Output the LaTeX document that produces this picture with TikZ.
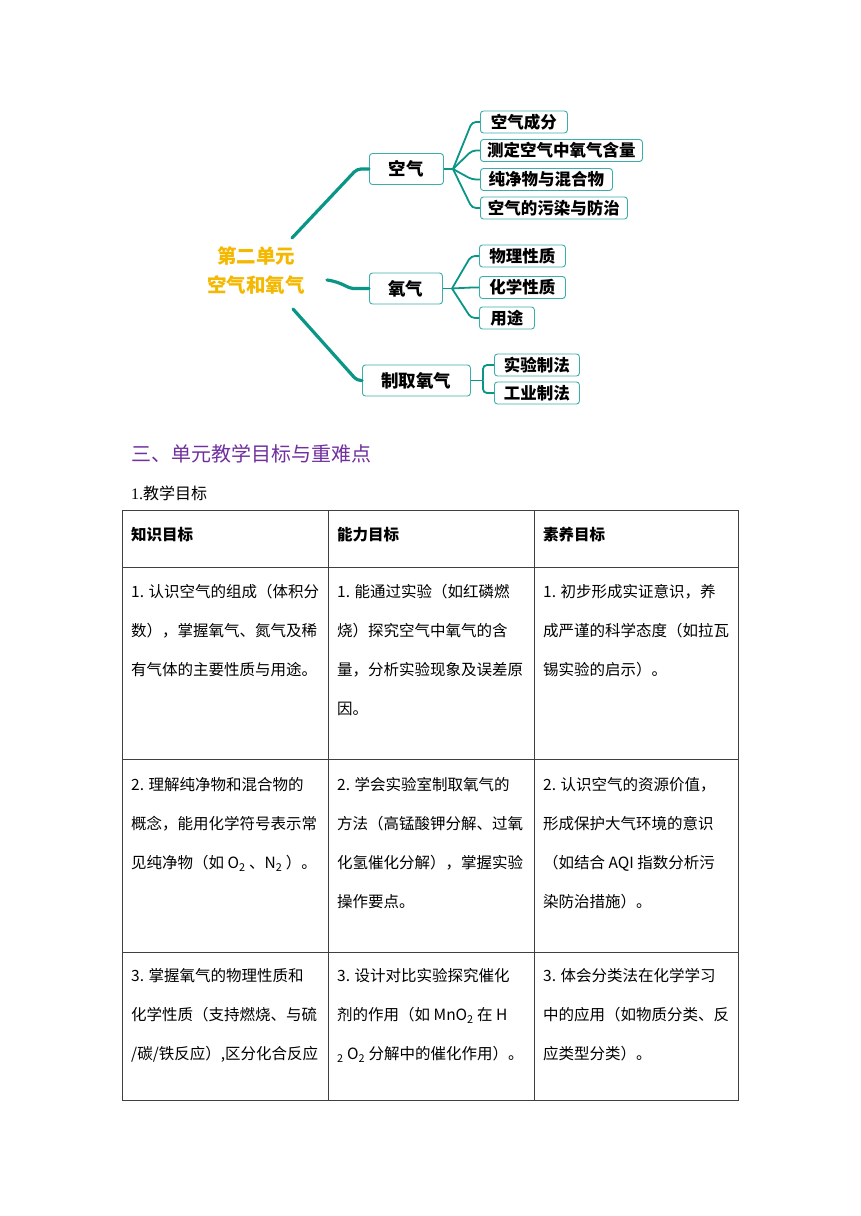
\documentclass[tikz,border=0pt]{standalone}
\usepackage{fontspec}
\setmainfont{Noto Sans CJK SC}
\newfontfamily\serifnum{Liberation Serif}
\usetikzlibrary{calc}
\definecolor{tealA}{HTML}{0A9687}
\definecolor{tealB}{HTML}{3AAFA9}
\definecolor{goldA}{HTML}{F5B800}
\definecolor{purpA}{HTML}{7030A0}
\newcommand{\lst}{\rule{0pt}{14pt}}
\begin{document}
\begin{tikzpicture}[x=1pt,y=-1pt,
 mainbox/.style={draw=tealB, line width=0.9pt, rounded corners=3pt, fill=white, minimum height=31pt, inner sep=0pt, font=\fontsize{17.5}{20}\selectfont\bfseries, anchor=west},
 subbox/.style={draw=tealB, line width=0.9pt, rounded corners=3pt, fill=white, minimum height=22pt, inner sep=0pt, font=\fontsize{16.5}{19}\selectfont\bfseries, anchor=west},
 trunk/.style={draw=tealA, line width=3.2pt, line cap=round, rounded corners=4pt},
 twig/.style={draw=tealA, line width=1.8pt, rounded corners=4pt},
 cell/.style={anchor=north west, inner sep=0pt, align=left, font=\fontsize{15.5}{39}\selectfont},
 gridline/.style={draw=black!75, line width=0.9pt}
]
\useasboundingbox[fill=white] (0,0) rectangle (860,1216);

% ---- mind map ----
\node[text=goldA, font=\fontsize{19.5}{29}\selectfont\bfseries, align=center, inner sep=0pt] (root) at (256,270) {第二单元\\空气和氧气};

\node[mainbox, minimum width=74pt] (kq) at (369,169) {空气};
\node[mainbox, minimum width=73pt] (yq) at (369,288.5) {氧气};
\node[mainbox, minimum width=108pt] (zq) at (362,380.5) {制取氧气};

\node[subbox, minimum width=87pt] (a1) at (480,122) {空气成分};
\node[subbox, minimum width=162pt] (a2) at (480,150.5) {测定空气中氧气含量};
\node[subbox, minimum width=132pt] (a3) at (480,179.5) {纯净物与混合物};
\node[subbox, minimum width=147pt] (a4) at (480,208) {空气的污染与防治};

\node[subbox, minimum width=86pt] (b1) at (479,256) {物理性质};
\node[subbox, minimum width=86pt] (b2) at (479,287.5) {化学性质};
\node[subbox, minimum width=55pt] (b3) at (479,318) {用途};

\node[subbox, minimum width=85pt] (c1) at (494,365) {实验制法};
\node[subbox, minimum width=85pt] (c2) at (494,393) {工业制法};

\coordinate (r1) at (292,238);
\coordinate (r2) at (327,280);
\coordinate (r3) at (293,309);
\coordinate (k1) at (357,169);
\coordinate (k2) at (357,288.5);
\coordinate (k3) at (357,380.5);
\draw[trunk] (r1) -- (k1) -- (kq.west);
\draw[trunk] (r2) .. controls (342,282) and (348,288.5) .. (k2) -- (yq.west);
\draw[trunk] (r3) -- (k3) -- (zq.west);

\coordinate (f1) at (453,169);
\draw[twig] (kq.east) -- (f1);
\foreach \s in {a1,a2,a3,a4}{\draw[twig] (f1) -- ([xshift=-8pt]\s.west) -- (\s.west);}
\coordinate (f2) at (452,288.5);
\draw[twig] (yq.east) -- (f2);
\foreach \s in {b1,b2,b3}{\draw[twig] (f2) -- ([xshift=-8pt]\s.west) -- (\s.west);}
\coordinate (f3) at (483,380.5);
\draw[twig] (zq.east) -- (f3);
\draw[twig] (f3) |- (c1.west);
\draw[twig] (f3) |- (c2.west);

% ---- headings ----
\node[anchor=base west, inner sep=0pt, text=purpA, font=\fontsize{20}{24}\selectfont] (h1) at (131,461.5) {三、单元教学目标与重难点};
\node[anchor=base west, inner sep=0pt, font=\fontsize{16}{20}\selectfont] (h2) at (131,499) {{\serifnum 1.}教学目标};

% ---- table ----
\draw[gridline] (122,510) rectangle (738,1100);
\foreach \yy in {567,759,952}{\draw[gridline] (122,\yy) -- (738,\yy);}
\foreach \xx in {328,534}{\draw[gridline] (\xx,510) -- (\xx,1100);}

\node[cell, font=\fontsize{15.5}{39}\selectfont\bfseries] (t01) at (131,526) {\lst 知识目标};
\node[cell, font=\fontsize{15.5}{39}\selectfont\bfseries] (t02) at (337,526) {\lst 能力目标};
\node[cell, font=\fontsize{15.5}{39}\selectfont\bfseries] (t03) at (543,526) {\lst 素养目标};

\node[cell] (t11) at (131,583) {\lst 1. 认识空气的组成（体积分\\数），掌握氧气、氮气及稀\\有气体的主要性质与用途。};
\node[cell] (t12) at (337,583) {\lst 1. 能通过实验（如红磷燃\\烧）探究空气中氧气的含\\量，分析实验现象及误差原\\因。};
\node[cell] (t13) at (543,583) {\lst 1. 初步形成实证意识，养\\成严谨的科学态度（如拉瓦\\锡实验的启示）。};

\node[cell] (t21) at (131,776) {\lst 2. 理解纯净物和混合物的\\概念，能用化学符号表示常\\见纯净物（如 O\textsubscript{2} 、N\textsubscript{2} ）。};
\node[cell] (t22) at (337,776) {\lst 2. 学会实验室制取氧气的\\方法（高锰酸钾分解、过氧\\化氢催化分解），掌握实验\\操作要点。};
\node[cell] (t23) at (543,776) {\lst 2. 认识空气的资源价值，\\形成保护大气环境的意识\\（如结合 AQI 指数分析污\\染防治措施）。};

\node[cell] (t31) at (131,967) {\lst 3. 掌握氧气的物理性质和\\化学性质（支持燃烧、与硫\\/碳/铁反应）,区分化合反应};
\node[cell] (t32) at (337,967) {\lst 3. 设计对比实验探究催化\\剂的作用（如 MnO\textsubscript{2} 在 H\\\textsubscript{2} O\textsubscript{2} 分解中的催化作用）。};
\node[cell] (t33) at (543,967) {\lst 3. 体会分类法在化学学习\\中的应用（如物质分类、反\\应类型分类）。};
\end{tikzpicture}
\end{document}
